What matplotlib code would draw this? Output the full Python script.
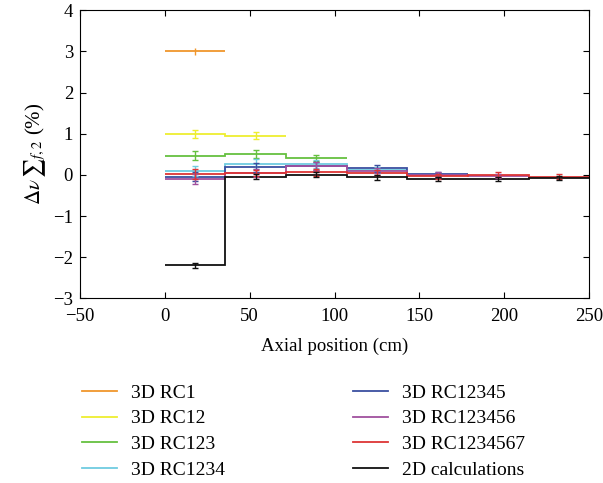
import numpy as np
import matplotlib
matplotlib.use("Agg")
import matplotlib.pyplot as plt

plt.rcParams['font.family'] = ['Liberation Serif', 'DejaVu Serif']
plt.rcParams['mathtext.fontset'] = 'stix'

edges = [0, 35.7, 71.4, 107.1, 142.9, 178.6, 214.3, 250.0]
centers = [17.9, 53.6, 89.3, 125.0, 160.7, 196.4, 232.1]

labels = ["3D RC1", "3D RC12", "3D RC123", "3D RC1234",
          "3D RC12345", "3D RC123456", "3D RC1234567", "2D calculations"]
colors = ["#f0962c", "#eeee30", "#66c040", "#70cce0",
          "#3a4fa0", "#a0509e", "#dd3535", "#111111"]

rc1 = [3.00]
rc12 = [1.00, 0.95]
rc123 = [0.47, 0.50, 0.41]
rc1234 = [0.10, 0.26, 0.27, 0.12]
rc12345 = [-0.04, 0.18, 0.22, 0.16, 0.01]
rc123456 = [-0.10, 0.05, 0.21, 0.10, 0.00, -0.03]
rc1234567 = [0.02, 0.05, 0.06, 0.05, -0.03, 0.00, -0.04]
calc2d = [-2.20, -0.04, 0.00, -0.06, -0.10, -0.10, -0.07]

err1 = [0.08]
err12 = [0.10, 0.08]
err123 = [0.12, 0.10, 0.08]
err1234 = [0.12, 0.12, 0.10, 0.08]
err12345 = [0.12, 0.10, 0.10, 0.08, 0.06]
err123456 = [0.12, 0.10, 0.10, 0.06, 0.06, 0.05]
err1234567 = [0.12, 0.08, 0.08, 0.06, 0.06, 0.06, 0.05]
err2d = [0.07, 0.07, 0.06, 0.06, 0.06, 0.06, 0.05]

series = [rc1, rc12, rc123, rc1234, rc12345, rc123456, rc1234567, calc2d]
errs = [err1, err12, err123, err1234, err12345, err123456, err1234567, err2d]

xticks = [-50, 0, 50, 100, 150, 200, 250]
yticks = [-3, -2, -1, 0, 1, 2, 3, 4]

fig = plt.figure(figsize=(6.03, 4.83), dpi=100)
ax = fig.add_axes([0.1327, 0.3824, 0.8443, 0.5963])

for vals, e, c, lab in zip(series, errs, colors, labels):
    n = len(vals)
    ax.stairs(vals, edges[:n + 1], color=c, lw=1.3, label=lab, baseline=None)
    ax.errorbar(centers[:n], vals, yerr=e, fmt='none', ecolor=c,
                elinewidth=1.0, capsize=2.5 if lab != "3D RC1" else 0)

ax.set_xlim(-50, 250)
ax.set_ylim(-3, 4)
ax.set_xticks(xticks)
ax.set_yticks(yticks)
ax.tick_params(direction='in', top=True, right=True, labelsize=13.5, length=4)
ax.tick_params(axis='x', pad=7)
ax.tick_params(axis='y', pad=5)
ax.set_yticklabels([("\u2212%d" % -v) if v < 0 else str(v) for v in yticks])
ax.set_xticklabels([("\u2212%d" % -v) if v < 0 else str(v) for v in xticks])
ax.set_xlabel("Axial position (cm)", fontsize=13.5, labelpad=9)
ax.set_ylabel(r"$\Delta\nu\,{\sum}_{f,2}$ (%)", fontsize=15, labelpad=4)

ax.legend(ncol=2, frameon=False, fontsize=14, loc='upper left',
          bbox_to_anchor=(82 / 603, 1 - 384 / 483), bbox_transform=fig.transFigure,
          borderaxespad=0, borderpad=0,
          handlelength=1.8, columnspacing=6.6, labelspacing=0.42, handletextpad=0.7)

fig.savefig("out.png", dpi=100)
